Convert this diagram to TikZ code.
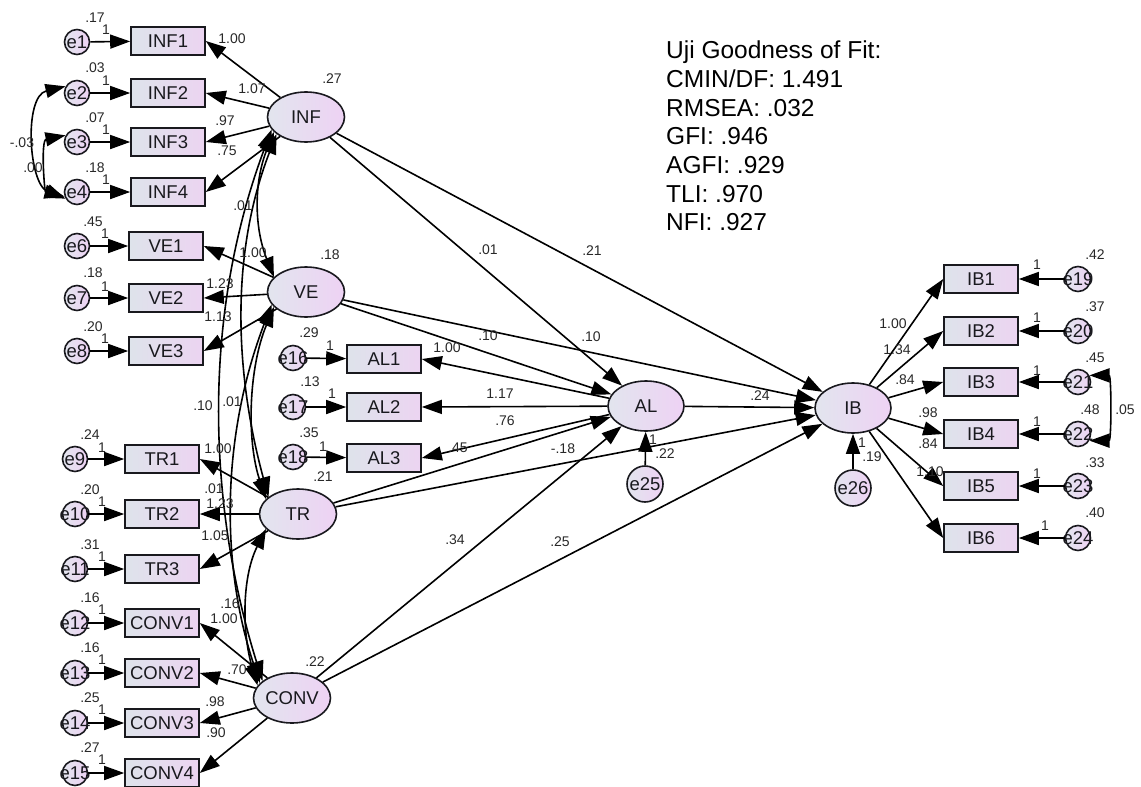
\documentclass[tikz,border=0pt]{standalone}
\usepackage{fontspec}
\setmainfont{Liberation Sans}
\usetikzlibrary{arrows.meta,shapes.geometric}
\definecolor{obsL}{RGB}{222,227,235}
\definecolor{obsR}{RGB}{236,212,241}
\definecolor{latL}{RGB}{226,229,238}
\definecolor{latR}{RGB}{238,210,244}
\definecolor{ink}{RGB}{25,25,30}
\definecolor{num}{RGB}{40,40,40}
\newcommand\fbig{\fontsize{18.5}{21}\selectfont}
\newcommand\fnum{\fontsize{14}{16}\selectfont}
\newcommand\ffit{\fontsize{24.5}{28}\selectfont}
\begin{document}
\begin{tikzpicture}[x=1pt,y=-1pt,
  obs/.style={rectangle,draw=ink,line width=1.6pt,left color=obsL,right color=obsR,minimum width=74pt,minimum height=28pt,inner sep=0pt,font=\fbig,text=ink},
  lat/.style={ellipse,draw=ink,line width=1.6pt,left color=latL,right color=latR,minimum width=77pt,minimum height=50pt,inner sep=0pt,font=\fbig,text=ink},
  err/.style={circle,draw=ink,line width=1.6pt,left color=latL,right color=latR,minimum size=25pt,inner sep=0pt},
  errb/.style={err,minimum size=36pt},
  etxt/.style={font=\fbig,text=ink,inner sep=0pt},
  lbl/.style={font=\fnum,text=num,inner sep=0pt},
  gof/.style={font=\ffit,text=black,inner sep=0pt,anchor=base west},
  reg/.style={draw=black,line width=1.6pt,-{Triangle[length=20pt,width=14pt]}},
  cov/.style={draw=black,line width=1.6pt,{Triangle[length=20pt,width=14pt]}-{Triangle[length=20pt,width=14pt]}},
]
\useasboundingbox (0,0) rectangle (1141,787);
% observed boxes
\foreach \n/\x/\y in {INF1/168/41,INF2/168/93,INF3/168/142,INF4/168/192,
  VE1/166/246,VE2/166/298,VE3/166/351,TR1/162/459,TR2/162/514,TR3/162/569,
  CONV1/162/623,CONV2/162/673,CONV3/162/723,CONV4/162/773,
  AL1/384/359,AL2/384/407,AL3/384/458,
  IB1/981/279,IB2/981/331,IB3/981/382,IB4/981/434,IB5/981/486,IB6/981/538}
  \node[obs] (\n) at (\x,\y) {\n};
% error circles
\foreach \n/\x/\y in {e1/77/42,e2/77/93,e3/77/142,e4/77/192,e6/77/246,e7/77/298,e8/77/351,
  e9/75/459,e10/75/514,e11/75/569,e12/75/623,e13/75/673,e14/75/723,e15/75/773,
  e16/293/358,e17/293/407,e18/293/457,
  e19/1078/279,e20/1078/331,e21/1078/382,e22/1078/434,e23/1078/486,e24/1078/538}
  \node[err,label={[etxt]center:\n}] (\n) at (\x,\y) {};
\node[errb,label={[etxt]center:e25}] (e25) at (645,484) {};
\node[errb,label={[etxt]center:e26}] (e26) at (853,488) {};
% latent
\node[lat] (INF) at (306,117) {INF};
\node[lat] (VE) at (306,292) {VE};
\node[lat] (TR) at (298,514) {TR};
\node[lat] (CONV) at (292,698) {CONV};
\node[lat,minimum width=76pt] (AL) at (646,406) {AL};
\node[lat,minimum width=76pt] (IB) at (853,408) {IB};
% error arrows
\foreach \e/\o in {e1/INF1,e2/INF2,e3/INF3,e4/INF4,e6/VE1,e7/VE2,e8/VE3,e9/TR1,e10/TR2,e11/TR3,
  e12/CONV1,e13/CONV2,e14/CONV3,e15/CONV4,e16/AL1,e17/AL2,e18/AL3,
  e19/IB1,e20/IB2,e21/IB3,e22/IB4,e23/IB5,e24/IB6}
  \draw[reg] (\e) -- (\o);
% loadings
\foreach \l/\o in {INF/INF1,INF/INF2,INF/INF3,INF/INF4,VE/VE1,VE/VE2,VE/VE3,TR/TR1,TR/TR2,TR/TR3,
  CONV/CONV1,CONV/CONV2,CONV/CONV3,CONV/CONV4,AL/AL1,AL/AL2,AL/AL3}
  \draw[reg] (\l) -- (\o.east);
\foreach \o in {IB1,IB2,IB3,IB4,IB5,IB6}
  \draw[reg] (IB) -- (\o.west);
% structural
\foreach \a/\b in {INF/AL,INF/IB,VE/AL,VE/IB,TR/AL,TR/IB,CONV/AL,CONV/IB,AL/IB,e25/AL,e26/IB}
  \draw[reg] (\a) -- (\b);
% covariances among latents
\draw[cov] (INF.205) .. controls +(-20,50) and +(-20,-50) .. (VE.155);
\draw[cov] (INF.210) .. controls +(-50,130) and +(-30,-110) .. (TR.150);
\draw[cov] (INF.200) .. controls +(-75,200) and +(-50,-160) .. (CONV.150);
\draw[cov] (VE.205) .. controls +(-25,60) and +(-20,-60) .. (TR.155);
\draw[cov] (VE.200) .. controls +(-50,130) and +(-40,-120) .. (CONV.155);
\draw[cov] (TR.205) .. controls +(-25,50) and +(-15,-50) .. (CONV.160);
% error covariances
\draw[cov] (e2.150) .. controls +(-42,10) and +(-37,-15) .. (e4.210);
\draw[cov] (e3.150) .. controls +(-25,5) and +(-20,-5) .. (e4.200);
\draw[cov] (e21.30) .. controls +(22,0) and +(22,0) .. (e22.-30);
% numeric labels
\foreach \t/\x/\y [count=\i] in {.17/95/18,1/106/30,.03/95/68,1/106/81,.07/95/118,1/106/130,.18/95/168,1/106/180,
  .45/93/222,1/105/234,.18/93/273,1/105/287,.20/93/327,1/105/339,
  .24/90/435,1/102/448,.20/90/490,1/102/502,.31/90/545,1/102/557,
  .16/90/598,1/102/610,.16/90/648,1/102/660,.25/90/698,1/102/710,.27/90/748,1/102/760,
  -.03/22/143,.00/33/168,
  .27/332/79,.18/330/255,.21/323/477,.22/315/662,
  1.00/232/39,1.07/252/89,.97/225/121,.75/227/151,
  1.00/253/253,1.23/220/284,1.13/218/317,
  1.00/218/449,1.23/220/504,1.05/215/536,
  1.00/224/619,.70/237/670,.98/215/702,.90/216/733,
  .01/243/206,.10/203/406,.01/232/402,.01/214/489,.16/230/604}
  \node[lbl] (la\i) at (\x,\y) {\t};
\foreach \t/\x/\y [count=\i] in {.29/309/333,1/330/346,.13/310/382,1/332/394,.35/309/433,1/323/447,
  .01/488/250,.21/592/251,.10/488/336,.10/591/337,1.00/447/348,1.17/500/394,.76/505/421,.45/458/448,
  -.18/563/449,.24/760/396,.34/455/540,.25/560/542,
  1/653/440,.22/665/454,1/862/443,.19/872/457,
  1.00/893/324,1.34/897/350,.84/905/380,.98/928/413,.84/928/444,1.10/930/472,
  1/1037/265,.42/1095/255,1/1037/318,.37/1095/307,1/1037/371,.45/1095/358,
  1/1037/422,.48/1090/410,.05/1125/410,1/1037/474,.33/1095/463,1/1045/526,.40/1095/513}
  \node[lbl] (lb\i) at (\x,\y) {\t};
% fit statistics
\node[gof] (g1) at (666,58) {Uji Goodness of Fit:};
\node[gof] (g2) at (666,87) {CMIN/DF: 1.491};
\node[gof] (g3) at (666,116) {RMSEA: .032};
\node[gof] (g4) at (666,144.5) {GFI: .946};
\node[gof] (g5) at (666,173) {AGFI: .929};
\node[gof] (g6) at (666,202) {TLI: .970};
\node[gof] (g7) at (666,230) {NFI: .927};
\end{tikzpicture}
\end{document}
